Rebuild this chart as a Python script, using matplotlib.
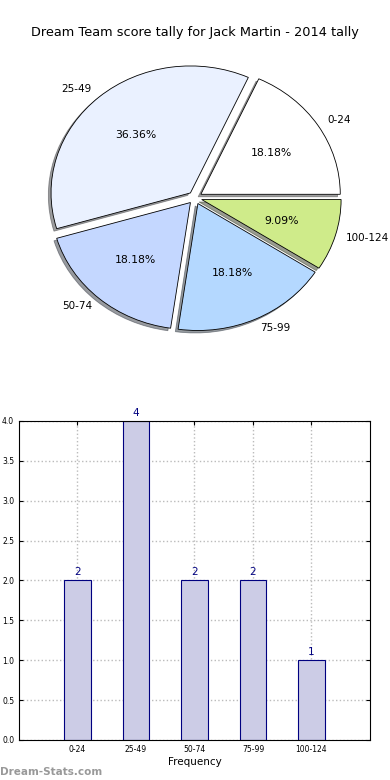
import matplotlib.pyplot as plt
import numpy as np

bins = ['0-24', '25-49', '50-74', '75-99', '100-124']
counts = [2, 4, 2, 2, 1]
pie_colors = ['#FFFFFF', '#EAF1FF', '#C4D7FF', '#B4D8FF', '#CFEB8A']

fig = plt.figure(figsize=(3.9, 7.8), dpi=100)

# pie (not equal aspect, like the old default)
ax1 = fig.add_axes([0.0532, 0.543, 0.8936, 0.407])
wedges, texts, autotexts = ax1.pie(
    counts, labels=bins, colors=pie_colors, explode=[0.05] * 5,
    autopct='%.2f%%', shadow={'ox': -0.014, 'oy': -0.014, 'shade': 0.75}, startangle=0,
    labeldistance=1.08,
    wedgeprops=dict(edgecolor='black', linewidth=0.6),
    textprops=dict(fontsize=7.8),
)
for t in texts:
    t.set_fontsize(7.5)
ax1.set_aspect('auto')
ax1.set_xlim(-1.25, 1.25)
ax1.set_ylim(-1.25, 1.25)
ax1.set_title('Dream Team score tally for Jack Martin - 2014 tally', fontsize=9.3, pad=2)

# bar chart
ax2 = fig.add_axes([0.0487, 0.0513, 0.9, 0.409])
x = np.arange(len(bins))
bars = ax2.bar(x, counts, width=0.45, color='#CCCCE6', edgecolor='#000080', linewidth=0.8, zorder=2)
for xi, c in zip(x, counts):
    ax2.text(xi, c + 0.04, str(c), ha='center', va='bottom', fontsize=7.5, color='#000080')
ax2.set_xlim(-1, 5)
ax2.set_ylim(0, 4)
ax2.set_xticks(x)
ax2.set_xticklabels(bins)
ax2.set_yticks(np.arange(0, 4.01, 0.5))
ax2.tick_params(labelsize=5.5, direction='in', top=True, right=True, length=3)
ax2.grid(True, linestyle=':', color='#BBBBBB', linewidth=1, zorder=0)
ax2.set_axisbelow(True)
ax2.set_xlabel('Frequency', fontsize=7.5, labelpad=2)

fig.text(0.0, 0.007, 'Dream-Stats.com', fontsize=7.5, color='#999999', fontweight='bold')

fig.savefig('out.png', dpi=100)
